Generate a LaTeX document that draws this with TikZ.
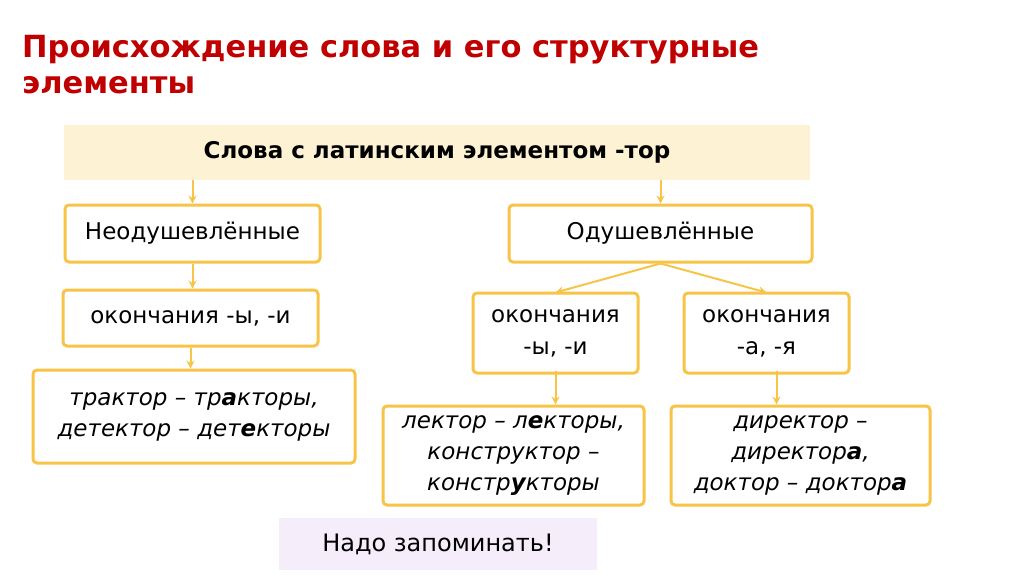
\documentclass[tikz,border=0pt]{standalone}
\usepackage{fontspec}
\setmainfont{DejaVu Sans}
\usetikzlibrary{arrows.meta,calc}
\definecolor{gold}{RGB}{247,196,72}
\definecolor{topfill}{RGB}{253,243,212}
\definecolor{lav}{RGB}{246,237,251}
\definecolor{titlered}{RGB}{192,0,0}
\tikzset{
  box/.style={draw=gold, line width=3pt, rounded corners=4pt, fill=white, align=center,
    inner sep=0pt, font=\fontsize{23}{32}\selectfont},
  ibox/.style={box, font=\fontsize{23}{31}\selectfont\itshape},
  arr/.style={draw=gold, line width=2pt, -{Stealth[length=8pt,width=8pt]}},
}
\begin{document}
\begin{tikzpicture}[x=1pt,y=-1pt]
\useasboundingbox (0,0) rectangle (1024,574);
\fill[white] (0,0) rectangle (1024,574);
\node[anchor=north west, align=left, text=titlered, inner sep=0pt,
  font=\fontsize{30.5}{36}\selectfont\bfseries] (title) at (22,35)
  {Происхождение слова и его структурные\\элементы};
\node[fill=topfill, minimum width=746pt, minimum height=55pt, inner sep=0pt,
  font=\fontsize{23}{26}\selectfont\bfseries] (top) at (437,152.5)
  {Слова с латинским элементом -тор};
\node[box, minimum width=255pt, minimum height=57pt] (neo) at (192.5,233.5) {Неодушевлённые};
\node[box, minimum width=303pt, minimum height=57pt] (odu) at (660.5,233.5) {Одушевлённые};
\node[box, minimum width=255pt, minimum height=56pt] (ok1) at (190.5,318) {окончания -ы, -и};
\node[ibox, minimum width=322pt, minimum height=93pt] (trak) at (194,416.5)
  {трактор – тр\textbf{а}кторы,\\детектор – дет\textbf{е}кторы};
\node[box, minimum width=165pt, minimum height=80pt] (ok2) at (555.5,333) {окончания\\-ы, -и};
\node[box, minimum width=165pt, minimum height=80pt] (ok3) at (766.5,333) {окончания\\-а, -я};
\node[ibox, minimum width=261pt, minimum height=99pt] (lek) at (513.5,455.5)
  {лектор – л\textbf{е}кторы,\\конструктор –\\констр\textbf{у}кторы};
\node[ibox, minimum width=259pt, minimum height=99pt] (dir) at (800.5,455.5)
  {директор –\\директор\textbf{а},\\доктор – доктор\textbf{а}};
\node[fill=lav, minimum width=318pt, minimum height=52pt, inner sep=0pt,
  font=\fontsize{24}{26}\selectfont] (nado) at (438,544) {Надо запоминать!};
\draw[arr] (top.south -| neo.north) -- (neo.north);
\draw[arr] (top.south -| odu.north) -- (odu.north);
\draw[arr] (neo.south) -- (neo.south |- ok1.north);
\draw[arr] (ok1.south) -- (ok1.south |- trak.north);
\draw[arr] (odu.south) -- ([yshift=-1pt]ok2.north);
\draw[arr] (odu.south) -- ([yshift=-1pt]ok3.north);
\draw[arr] ([yshift=4pt]ok2.south) -- (ok2.south |- lek.north);
\coordinate (c3) at ([xshift=10pt,yshift=4pt]ok3.south);
\draw[arr] (c3) -- (c3 |- dir.north);
\end{tikzpicture}
\end{document}
